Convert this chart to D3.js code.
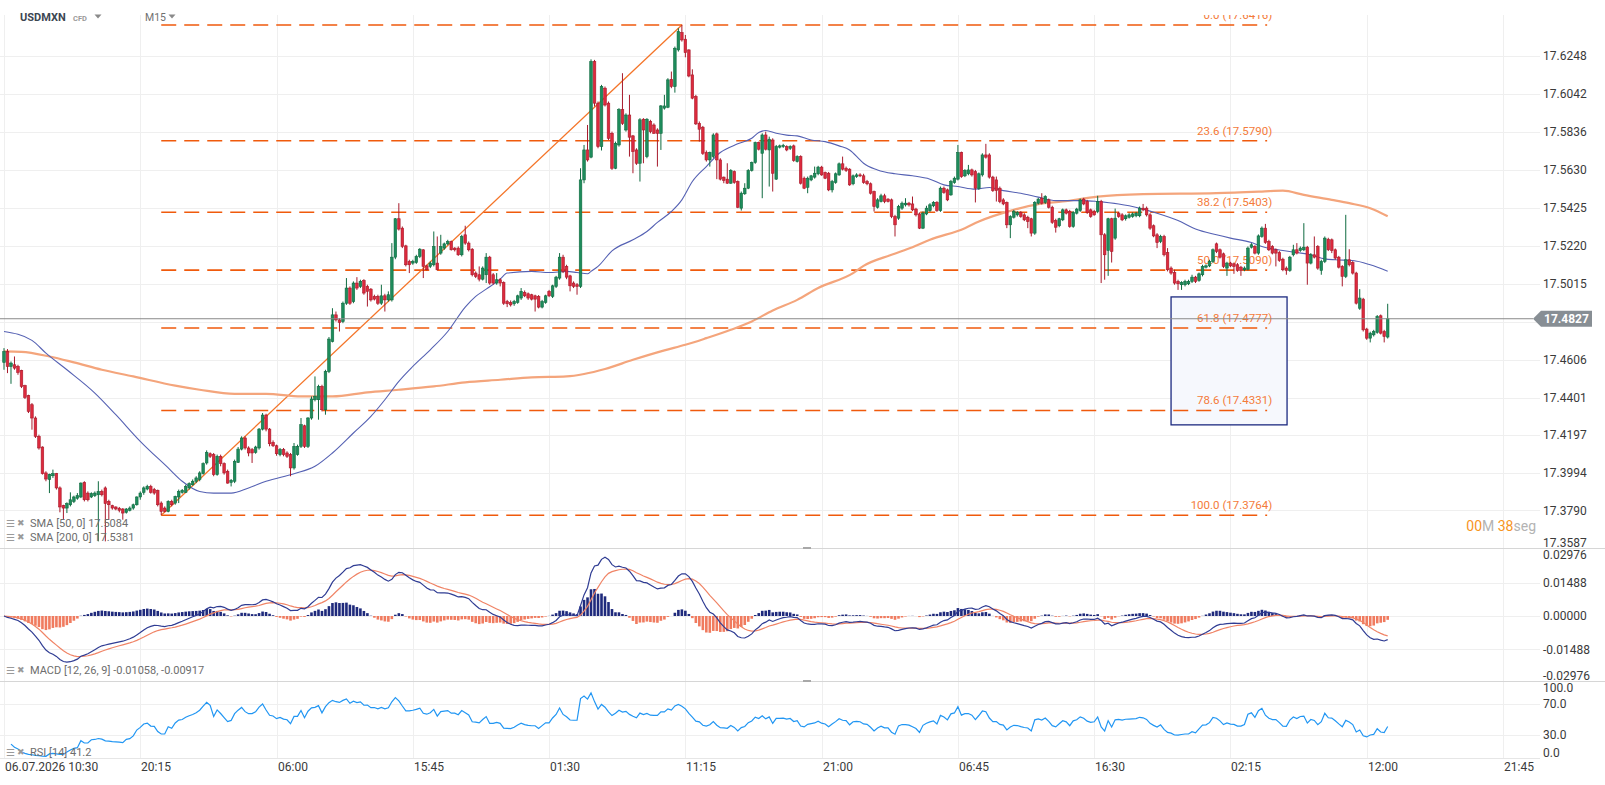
<!DOCTYPE html>
<html>
<head>
<meta charset="utf-8">
<script src="https://cdn.jsdelivr.net/npm/d3@7"></script>
<style>
  body { margin: 0; background: #fff; }
  svg { display: block; font-family: Roboto, 'Noto Sans', sans-serif; }
</style>
</head>
<body>
<svg id="chart" width="1605" height="785"></svg>
<script>
'use strict';

// ---- data (USDMXN, M15) ----
const opens = [
  17.4591,17.4650,17.4569,17.4578,17.4569,17.4548,17.4465,17.4411,17.4362,17.4290,
  17.4191,17.4133,17.3993,17.3958,17.3978,17.3989,17.3912,17.3816,17.3803,17.3821,
  17.3839,17.3856,17.3863,17.3942,17.3884,17.3863,17.3870,17.3875,17.3893,17.3912,
  17.3839,17.3816,17.3809,17.3802,17.3798,17.3780,17.3791,17.3803,17.3821,17.3863,
  17.3888,17.3906,17.3920,17.3903,17.3899,17.3830,17.3803,17.3785,17.3839,17.3830,
  17.3863,17.3888,17.3888,17.3912,17.3929,17.3948,17.3958,17.3989,17.4047,17.4097,
  17.4092,17.3984,17.4083,17.4043,17.4002,17.3942,17.3948,17.4050,17.4122,17.4182,
  17.4128,17.4119,17.4104,17.4128,17.4230,17.4306,17.4230,17.4158,17.4140,17.4092,
  17.4119,17.4101,17.4092,17.4020,17.4092,17.4137,17.4248,17.4137,17.4290,17.4389,
  17.4389,17.4461,17.4335,17.4542,17.4704,17.4848,17.4821,17.4812,17.4911,17.4993,
  17.4920,17.5020,17.5002,17.5034,17.5002,17.4987,17.4948,17.4948,17.4911,17.4951,
  17.4929,17.4929,17.5160,17.5368,17.5317,17.5221,17.5137,17.5128,17.5131,17.5164,
  17.5200,17.5113,17.5110,17.5119,17.5128,17.5182,17.5209,17.5232,17.5245,17.5209,
  17.5209,17.5173,17.5281,17.5236,17.5203,17.5074,17.5065,17.5041,17.5065,17.5160,
  17.5065,17.5020,17.5038,17.5023,17.4920,17.4915,17.4908,17.4915,17.4939,17.4969,
  17.4962,17.4957,17.4951,17.4948,17.4890,17.4915,17.4975,17.4948,17.5002,17.5047,
  17.5160,17.5110,17.5059,17.5020,17.5011,17.5002,17.5578,17.5740,17.5701,17.6218,
  17.5993,17.5758,17.6074,17.5993,17.5830,17.5641,17.5767,17.5958,17.5848,17.5929,
  17.5816,17.5740,17.5668,17.5906,17.5704,17.5894,17.5875,17.5848,17.5830,17.5966,
  17.5971,17.6122,17.6083,17.6281,17.6375,17.6339,17.6281,17.6146,17.6029,17.5884,
  17.5863,17.5726,17.5686,17.5704,17.5827,17.5686,17.5593,17.5582,17.5560,17.5623,
  17.5569,17.5425,17.5503,17.5533,17.5629,17.5672,17.5780,17.5722,17.5821,17.5740,
  17.5794,17.5582,17.5755,17.5758,17.5758,17.5749,17.5762,17.5677,17.5704,17.5587,
  17.5538,17.5578,17.5593,17.5611,17.5647,17.5618,17.5614,17.5524,17.5564,17.5605,
  17.5665,17.5641,17.5636,17.5557,17.5596,17.5605,17.5600,17.5569,17.5557,17.5515,
  17.5430,17.5461,17.5492,17.5474,17.5470,17.5380,17.5371,17.5425,17.5443,17.5452,
  17.5448,17.5420,17.5394,17.5317,17.5394,17.5412,17.5438,17.5456,17.5412,17.5533,
  17.5524,17.5497,17.5564,17.5582,17.5726,17.5600,17.5611,17.5632,17.5623,17.5533,
  17.5605,17.5713,17.5713,17.5593,17.5578,17.5533,17.5470,17.5456,17.5335,17.5376,
  17.5389,17.5402,17.5389,17.5376,17.5368,17.5290,17.5452,17.5479,17.5456,17.5470,
  17.5430,17.5358,17.5330,17.5362,17.5416,17.5407,17.5326,17.5398,17.5412,17.5474,
  17.5461,17.5416,17.5407,17.5407,17.5461,17.5281,17.5196,17.5368,17.5263,17.5398,
  17.5389,17.5368,17.5376,17.5380,17.5384,17.5384,17.5425,17.5425,17.5389,17.5330,
  17.5281,17.5245,17.5272,17.5185,17.5101,17.5077,17.5029,17.5011,17.5011,17.5016,
  17.5029,17.5052,17.5034,17.5065,17.5106,17.5113,17.5137,17.5232,17.5200,17.5178,
  17.5101,17.5128,17.5124,17.5119,17.5106,17.5092,17.5095,17.5214,17.5218,17.5182,
  17.5272,17.5317,17.5245,17.5218,17.5200,17.5185,17.5149,17.5101,17.5088,17.5173,
  17.5200,17.5196,17.5200,17.5214,17.5128,17.5173,17.5218,17.5088,17.5137,17.5257,
  17.5254,17.5200,17.5160,17.5110,17.5056,17.5146,17.5131,17.5074,17.4884,17.4933,
  17.4771,17.4722,17.4740,17.4753,17.4843,17.4758,17.4728
];
const highs = [
  17.4668,17.4663,17.4596,17.4623,17.4578,17.4551,17.4470,17.4416,17.4371,17.4299,
  17.4200,17.4137,17.4002,17.3989,17.4011,17.3993,17.3920,17.3821,17.3834,17.3888,
  17.3870,17.3884,17.3942,17.3948,17.3893,17.3888,17.3893,17.3948,17.3903,17.3920,
  17.3848,17.3821,17.3812,17.3809,17.3803,17.3803,17.3812,17.3827,17.3866,17.3893,
  17.3920,17.3929,17.3929,17.3912,17.3903,17.3839,17.3812,17.3845,17.3848,17.3870,
  17.3903,17.3906,17.3929,17.3942,17.3958,17.3975,17.4002,17.4050,17.4115,17.4104,
  17.4101,17.4092,17.4092,17.4050,17.4011,17.3960,17.4065,17.4133,17.4191,17.4191,
  17.4137,17.4128,17.4140,17.4236,17.4317,17.4313,17.4236,17.4169,17.4146,17.4128,
  17.4128,17.4110,17.4101,17.4155,17.4146,17.4290,17.4254,17.4295,17.4407,17.4515,
  17.4470,17.4470,17.4551,17.4728,17.4884,17.4866,17.4830,17.4920,17.5047,17.5002,
  17.5029,17.5052,17.5038,17.5041,17.5011,17.4993,17.4957,17.4957,17.5011,17.4962,
  17.4975,17.5236,17.5371,17.5452,17.5326,17.5227,17.5146,17.5146,17.5173,17.5209,
  17.5203,17.5119,17.5137,17.5299,17.5272,17.5281,17.5239,17.5254,17.5250,17.5214,
  17.5218,17.5281,17.5330,17.5245,17.5209,17.5083,17.5110,17.5110,17.5182,17.5167,
  17.5074,17.5074,17.5047,17.5029,17.4929,17.4926,17.4929,17.4957,17.4993,17.4980,
  17.4969,17.4962,17.4957,17.4955,17.4929,17.4957,17.4983,17.5011,17.5059,17.5182,
  17.5173,17.5119,17.5065,17.5029,17.5020,17.5641,17.5767,17.5875,17.6230,17.6227,
  17.6002,17.6092,17.6083,17.6002,17.5839,17.5785,17.5966,17.6155,17.5938,17.6038,
  17.5821,17.5749,17.5912,17.5912,17.5912,17.5903,17.5884,17.5857,17.5983,17.6038,
  17.6128,17.6164,17.6299,17.6398,17.6416,17.6362,17.6284,17.6176,17.6038,17.5894,
  17.5870,17.5737,17.5731,17.5830,17.5834,17.5695,17.5596,17.5668,17.5636,17.5629,
  17.5575,17.5515,17.5560,17.5636,17.5677,17.5785,17.5785,17.5830,17.5839,17.5812,
  17.5803,17.5767,17.5769,17.5773,17.5765,17.5765,17.5769,17.5711,17.5711,17.5596,
  17.5596,17.5605,17.5650,17.5654,17.5654,17.5623,17.5621,17.5578,17.5618,17.5672,
  17.5704,17.5650,17.5641,17.5607,17.5614,17.5614,17.5611,17.5578,17.5564,17.5520,
  17.5479,17.5503,17.5503,17.5479,17.5477,17.5389,17.5443,17.5461,17.5479,17.5459,
  17.5488,17.5427,17.5402,17.5407,17.5438,17.5452,17.5463,17.5463,17.5542,17.5542,
  17.5531,17.5578,17.5596,17.5767,17.5731,17.5636,17.5659,17.5639,17.5632,17.5618,
  17.5722,17.5773,17.5722,17.5600,17.5596,17.5542,17.5479,17.5461,17.5387,17.5416,
  17.5409,17.5409,17.5398,17.5384,17.5373,17.5463,17.5481,17.5506,17.5495,17.5477,
  17.5438,17.5368,17.5373,17.5423,17.5423,17.5416,17.5409,17.5427,17.5477,17.5481,
  17.5470,17.5423,17.5416,17.5492,17.5470,17.5290,17.5373,17.5373,17.5423,17.5405,
  17.5398,17.5391,17.5398,17.5402,17.5405,17.5434,17.5448,17.5434,17.5398,17.5337,
  17.5290,17.5281,17.5281,17.5209,17.5110,17.5092,17.5038,17.5030,17.5038,17.5038,
  17.5065,17.5059,17.5077,17.5119,17.5121,17.5146,17.5207,17.5239,17.5207,17.5185,
  17.5135,17.5135,17.5131,17.5128,17.5113,17.5110,17.5218,17.5236,17.5225,17.5283,
  17.5326,17.5340,17.5254,17.5225,17.5207,17.5193,17.5157,17.5110,17.5167,17.5227,
  17.5236,17.5218,17.5344,17.5221,17.5182,17.5272,17.5225,17.5146,17.5272,17.5265,
  17.5261,17.5207,17.5167,17.5117,17.5389,17.5203,17.5139,17.5081,17.4987,17.4940,
  17.4778,17.4757,17.4767,17.4847,17.4850,17.4767,17.4908
];
const lows = [
  17.4551,17.4533,17.4475,17.4551,17.4524,17.4452,17.4393,17.4317,17.4227,17.4182,
  17.4119,17.3984,17.3948,17.3884,17.3966,17.3903,17.3780,17.3744,17.3776,17.3812,
  17.3830,17.3848,17.3857,17.3839,17.3839,17.3857,17.3863,17.3623,17.3866,17.3623,
  17.3740,17.3794,17.3791,17.3780,17.3740,17.3773,17.3785,17.3794,17.3816,17.3848,
  17.3875,17.3899,17.3881,17.3875,17.3812,17.3764,17.3780,17.3780,17.3812,17.3821,
  17.3830,17.3881,17.3884,17.3903,17.3924,17.3938,17.3948,17.3984,17.4038,17.4074,
  17.3975,17.3978,17.4029,17.3984,17.3935,17.3920,17.3938,17.4047,17.4115,17.4119,
  17.4083,17.4047,17.4097,17.4119,17.4223,17.4218,17.4137,17.4133,17.4086,17.4083,
  17.4083,17.4074,17.3975,17.4011,17.4086,17.4128,17.4128,17.4128,17.4281,17.4380,
  17.4281,17.4326,17.4308,17.4533,17.4699,17.4812,17.4758,17.4803,17.4902,17.4902,
  17.4911,17.4983,17.4993,17.4957,17.4893,17.4920,17.4926,17.4902,17.4902,17.4866,
  17.4920,17.4920,17.5149,17.5304,17.5209,17.5110,17.5074,17.5119,17.5124,17.5155,
  17.5047,17.5088,17.5101,17.5110,17.5088,17.5173,17.5200,17.5225,17.5196,17.5191,
  17.5167,17.5164,17.5227,17.5191,17.5056,17.5047,17.5029,17.5034,17.5020,17.5011,
  17.5011,17.5011,17.5002,17.4902,17.4890,17.4893,17.4897,17.4908,17.4929,17.4944,
  17.4929,17.4926,17.4866,17.4883,17.4883,17.4908,17.4944,17.4939,17.4993,17.5038,
  17.5074,17.5041,17.4975,17.4993,17.4957,17.4993,17.5560,17.5677,17.5695,17.5975,
  17.5749,17.5737,17.5975,17.5794,17.5632,17.5636,17.5758,17.5875,17.5839,17.5704,
  17.5614,17.5659,17.5569,17.5668,17.5695,17.5830,17.5827,17.5650,17.5740,17.5958,
  17.5966,17.6074,17.6050,17.6272,17.6326,17.6241,17.6133,17.6014,17.5875,17.5785,
  17.5713,17.5677,17.5650,17.5695,17.5582,17.5575,17.5560,17.5557,17.5557,17.5557,
  17.5425,17.5412,17.5497,17.5528,17.5623,17.5665,17.5737,17.5479,17.5737,17.5542,
  17.5515,17.5578,17.5748,17.5751,17.5733,17.5740,17.5676,17.5672,17.5553,17.5528,
  17.5506,17.5571,17.5585,17.5603,17.5600,17.5582,17.5517,17.5510,17.5557,17.5600,
  17.5629,17.5621,17.5546,17.5549,17.5589,17.5593,17.5557,17.5549,17.5499,17.5407,
  17.5423,17.5456,17.5452,17.5456,17.5371,17.5272,17.5362,17.5416,17.5434,17.5434,
  17.5409,17.5380,17.5312,17.5312,17.5387,17.5405,17.5430,17.5405,17.5405,17.5503,
  17.5463,17.5492,17.5557,17.5575,17.5589,17.5593,17.5603,17.5596,17.5456,17.5524,
  17.5596,17.5693,17.5585,17.5513,17.5461,17.5452,17.5441,17.5317,17.5263,17.5369,
  17.5380,17.5373,17.5355,17.5317,17.5272,17.5281,17.5445,17.5445,17.5448,17.5423,
  17.5340,17.5293,17.5322,17.5355,17.5391,17.5319,17.5319,17.5391,17.5405,17.5441,
  17.5394,17.5373,17.5384,17.5398,17.5020,17.5038,17.5059,17.5131,17.5254,17.5373,
  17.5355,17.5358,17.5369,17.5373,17.5376,17.5376,17.5409,17.5380,17.5308,17.5268,
  17.5209,17.5236,17.5164,17.5083,17.5065,17.5011,17.4983,17.4983,17.5002,17.5009,
  17.5020,17.5020,17.5027,17.5056,17.5099,17.5106,17.5128,17.5182,17.5153,17.5101,
  17.5059,17.5106,17.5070,17.5081,17.5059,17.5084,17.5088,17.5207,17.5175,17.5173,
  17.5265,17.5232,17.5193,17.5175,17.5110,17.5135,17.5084,17.5065,17.5081,17.5164,
  17.5175,17.5189,17.5193,17.5011,17.5121,17.5153,17.5092,17.5065,17.5128,17.5193,
  17.5182,17.5146,17.5099,17.5002,17.5047,17.5110,17.5066,17.4904,17.4875,17.4758,
  17.4713,17.4699,17.4731,17.4746,17.4742,17.4699,17.4720
];
const closes = [
  17.4650,17.4569,17.4587,17.4560,17.4537,17.4461,17.4402,17.4326,17.4290,17.4191,
  17.4128,17.3989,17.3960,17.3984,17.3989,17.3912,17.3809,17.3803,17.3827,17.3848,
  17.3863,17.3870,17.3938,17.3848,17.3848,17.3881,17.3884,17.3893,17.3875,17.3827,
  17.3821,17.3803,17.3798,17.3791,17.3776,17.3798,17.3803,17.3821,17.3863,17.3884,
  17.3912,17.3920,17.3888,17.3884,17.3821,17.3785,17.3785,17.3839,17.3821,17.3866,
  17.3893,17.3899,17.3920,17.3935,17.3948,17.3966,17.3993,17.4043,17.4104,17.4083,
  17.3984,17.4083,17.4043,17.3993,17.3938,17.3953,17.4056,17.4122,17.4182,17.4128,
  17.4101,17.4101,17.4133,17.4230,17.4306,17.4230,17.4151,17.4140,17.4097,17.4119,
  17.4092,17.4083,17.4020,17.4137,17.4137,17.4254,17.4137,17.4290,17.4393,17.4407,
  17.4461,17.4335,17.4542,17.4717,17.4848,17.4821,17.4807,17.4911,17.4993,17.4911,
  17.5020,17.4993,17.5029,17.4966,17.4975,17.4929,17.4933,17.4911,17.4951,17.4929,
  17.4957,17.5160,17.5368,17.5312,17.5218,17.5119,17.5119,17.5137,17.5164,17.5203,
  17.5110,17.5092,17.5128,17.5218,17.5092,17.5218,17.5232,17.5245,17.5200,17.5200,
  17.5173,17.5272,17.5236,17.5200,17.5065,17.5056,17.5041,17.5101,17.5160,17.5020,
  17.5020,17.5038,17.5020,17.4911,17.4908,17.4902,17.4920,17.4951,17.4975,17.4951,
  17.4939,17.4933,17.4933,17.4890,17.4920,17.4951,17.4951,17.5005,17.5052,17.5160,
  17.5083,17.5052,17.5005,17.5002,17.5002,17.5578,17.5740,17.5686,17.6218,17.5993,
  17.5758,17.6083,17.5983,17.5803,17.5641,17.5776,17.5958,17.5884,17.5929,17.5809,
  17.5731,17.5668,17.5903,17.5848,17.5906,17.5839,17.5830,17.5830,17.5978,17.5978,
  17.6119,17.6083,17.6290,17.6380,17.6335,17.6266,17.6140,17.6020,17.5881,17.5852,
  17.5722,17.5686,17.5726,17.5821,17.5686,17.5582,17.5575,17.5560,17.5629,17.5564,
  17.5430,17.5506,17.5533,17.5629,17.5672,17.5780,17.5744,17.5821,17.5744,17.5798,
  17.5614,17.5758,17.5762,17.5765,17.5740,17.5758,17.5683,17.5704,17.5560,17.5533,
  17.5587,17.5600,17.5614,17.5647,17.5605,17.5587,17.5524,17.5569,17.5611,17.5665,
  17.5636,17.5629,17.5551,17.5600,17.5605,17.5600,17.5564,17.5557,17.5506,17.5434,
  17.5470,17.5492,17.5461,17.5461,17.5380,17.5335,17.5434,17.5452,17.5452,17.5443,
  17.5416,17.5389,17.5317,17.5398,17.5425,17.5443,17.5456,17.5412,17.5533,17.5510,
  17.5470,17.5569,17.5587,17.5726,17.5596,17.5629,17.5632,17.5605,17.5533,17.5611,
  17.5713,17.5701,17.5593,17.5520,17.5520,17.5461,17.5448,17.5335,17.5380,17.5407,
  17.5402,17.5380,17.5362,17.5353,17.5290,17.5456,17.5474,17.5452,17.5488,17.5430,
  17.5348,17.5322,17.5368,17.5416,17.5398,17.5326,17.5402,17.5420,17.5470,17.5448,
  17.5402,17.5380,17.5389,17.5461,17.5281,17.5173,17.5368,17.5191,17.5371,17.5380,
  17.5362,17.5384,17.5389,17.5394,17.5398,17.5425,17.5416,17.5389,17.5317,17.5275,
  17.5239,17.5272,17.5173,17.5092,17.5074,17.5020,17.5016,17.5023,17.5029,17.5029,
  17.5052,17.5029,17.5070,17.5110,17.5113,17.5137,17.5200,17.5191,17.5160,17.5110,
  17.5128,17.5113,17.5110,17.5088,17.5088,17.5101,17.5209,17.5227,17.5182,17.5275,
  17.5317,17.5239,17.5200,17.5182,17.5182,17.5142,17.5092,17.5088,17.5160,17.5200,
  17.5182,17.5209,17.5214,17.5128,17.5173,17.5160,17.5101,17.5137,17.5263,17.5200,
  17.5196,17.5155,17.5106,17.5056,17.5146,17.5119,17.5074,17.4911,17.4939,17.4767,
  17.4722,17.4749,17.4758,17.4839,17.4749,17.4731,17.4827
];

// moving averages as drawn (bar index, value)
const sma50Bars = [0,8,12,18,26,32,39,47,51,56,60,65,70,75,83,89,94,100,105,109,113,117,122,127,132,
  135,138,142,144,151,156,161,164,167,168,170,174,180,184,187,191,194,197,201,205,210,214,216,218,
  221,224,227,231,235,239,242,245,246,250,255,260,265,269,273,278,282,286,291,296,301,309,313,319,
  322,326,330,336,341,347,351,357,360,366,370,374,378,381,386,391,396];
const sma50Vals = [17.4758,17.4710,17.4641,17.4551,17.4425,17.4308,17.4164,17.4020,17.3948,17.3893,
  17.3884,17.3884,17.3912,17.3948,17.3989,17.4029,17.4101,17.4209,17.4299,17.4389,17.4488,17.4569,
  17.4659,17.4758,17.4890,17.4948,17.4987,17.5041,17.5074,17.5083,17.5077,17.5083,17.5077,17.5070,
  17.5083,17.5110,17.5194,17.5254,17.5299,17.5348,17.5407,17.5470,17.5569,17.5650,17.5726,17.5773,
  17.5803,17.5834,17.5845,17.5830,17.5820,17.5816,17.5794,17.5785,17.5762,17.5740,17.5686,17.5668,
  17.5632,17.5611,17.5600,17.5582,17.5551,17.5542,17.5528,17.5537,17.5520,17.5506,17.5485,17.5466,
  17.5466,17.5461,17.5448,17.5438,17.5420,17.5398,17.5358,17.5312,17.5281,17.5263,17.5239,17.5218,
  17.5196,17.5185,17.5173,17.5151,17.5146,17.5142,17.5119,17.5084];
const sma200Bars = [0,5,13,20,28,37,49,56,66,75,85,94,104,113,123,132,142,151,161,166,172,180,189,
  195,201,208,214,220,227,233,243,246,254,260,265,275,279,289,296,303,313,326,347,360,366,372,380,
  385,391,396];
const sma200Vals = [17.4650,17.4648,17.4623,17.4591,17.4551,17.4515,17.4465,17.4443,17.4421,17.4421,
  17.4407,17.4407,17.4429,17.4443,17.4461,17.4483,17.4497,17.4510,17.4515,17.4528,17.4555,17.4605,
  17.4656,17.4686,17.4722,17.4767,17.4812,17.4872,17.4929,17.4993,17.5074,17.5113,17.5173,17.5214,
  17.5254,17.5317,17.5353,17.5416,17.5447,17.5461,17.5488,17.5501,17.5506,17.5515,17.5520,17.5497,
  17.5470,17.5452,17.5425,17.5381];

// axis ticks and labels
const timeLabels = ['06.07.2026 10:30','20:15','06:00','15:45','01:30','11:15','21:00','06:45','16:30','02:15','12:00','21:45'];
const timeLabelBars = [0,39,78,117,156,195,234,273,312,351,390,429];
const priceTicks = [17.6248,17.6042,17.5836,17.5630,17.5425,17.5220,17.5015,17.4810,17.4606,17.4401,17.4197,17.3994,17.3790,17.3587];
const macdTicks = [0.02976,0.01488,0,-0.01488,-0.02976];
const macdTickLabels = ['0.02976','0.01488','0.00000','-0.01488','-0.02976'];
const rsiTicks = [100,70,30,0];

// drawings
const fibLevels = ['0.0','23.6','38.2','50.0','61.8','78.6','100.0'];
const fibPrices = [17.6416,17.5790,17.5403,17.5090,17.4777,17.4331,17.3764];
const fibBars = [45, 361.5];
const trendBars = [45, 194];
const trendPrices = [17.3764, 17.6416];
const boxBars = [334, 367.2];
const boxPrices = [17.4945, 17.4253];
const lastPrice = 17.4827;

// ---- layout ----
const plotRight = 1540;
const mainPanel = {top: 0, bottom: 548};
const macdPanel = {top: 548, bottom: 681};
const rsiPanel = {top: 681, bottom: 758};

let svg = d3.select('#chart');

let x = d3.scaleLinear().domain([0, 429]).range([4, 1503]);
let yPrice = d3.scaleLinear().domain([17.3587, 17.6551]).range([548, 0]);
let yMacd = d3.scaleLinear().domain([-0.02976, 0.02976]).range([682.6, 549.4]);
let yRsi = d3.scaleLinear().domain([0, 100]).range([758.25, 680.75]);

function ema(values, n) {
  let k = 2 / (n + 1);
  let out = [];
  values.forEach(function(v, i) {
    out.push(i === 0 ? v : v * k + out[i - 1] * (1 - k));
  });
  return out;
}

function rsi(values, n) {
  let out = [null];
  let avgGain = 0;
  let avgLoss = 0;
  for (let i = 1; i < values.length; i++) {
    let diff = values[i] - values[i - 1];
    let m = Math.min(i, n);
    avgGain = (avgGain * (m - 1) + Math.max(diff, 0)) / m;
    avgLoss = (avgLoss * (m - 1) + Math.max(-diff, 0)) / m;
    out.push(avgLoss === 0 ? 100 : 100 - 100 / (1 + avgGain / avgLoss));
  }
  return out;
}

function clipRect(id, top, bottom) {
  svg.append('clipPath').attr('id', id)
    .append('rect')
    .attr('x', 0).attr('y', top)
    .attr('width', plotRight).attr('height', bottom - top);
}

function axisLabel(y, text, top, bottom) {
  svg.append('text')
    .attr('x', 1543)
    .attr('y', Math.max(top + 6.5, Math.min(bottom - 5, y)))
    .attr('dy', '0.35em')
    .attr('font-size', '12px')
    .attr('fill', '#3a3a3a')
    .text(text);
}

function legendRow(y, text) {
  let g = svg.append('g').attr('transform', 'translate(6,' + y + ')');
  g.append('text').attr('x', 0).attr('dy', '0.35em')
    .attr('font-size', '10px').attr('fill', '#9a9a9a')
    .attr('font-family', 'DejaVu Sans').text('\u2630');
  g.append('text').attr('x', 11).attr('dy', '0.35em')
    .attr('font-size', '9px').attr('fill', '#9a9a9a')
    .attr('font-family', 'DejaVu Sans').text('\u2716');
  g.append('text').attr('x', 24).attr('dy', '0.35em')
    .attr('font-size', '11px').attr('fill', '#6d6d6d')
    .text(text);
}

clipRect('clip-main', 15, mainPanel.bottom);
clipRect('clip-macd', macdPanel.top, macdPanel.bottom);
clipRect('clip-rsi', rsiPanel.top, rsiPanel.bottom);

// ---- grid ----
let grid = svg.append('g').attr('stroke', '#efefef').attr('stroke-width', 1);

grid.selectAll('.vgrid')
  .data(timeLabelBars)
  .enter()
  .append('line')
  .attr('x1', d => Math.round(x(d)) + 0.5)
  .attr('x2', d => Math.round(x(d)) + 0.5)
  .attr('y1', 15)
  .attr('y2', rsiPanel.bottom);

grid.selectAll('.pgrid')
  .data(priceTicks.slice(0, -1))
  .enter()
  .append('line')
  .attr('x1', 0).attr('x2', plotRight)
  .attr('y1', d => Math.round(yPrice(d)) + 0.5)
  .attr('y2', d => Math.round(yPrice(d)) + 0.5);

grid.selectAll('.mgrid')
  .data(macdTicks.slice(1, -1))
  .enter()
  .append('line')
  .attr('x1', 0).attr('x2', plotRight)
  .attr('y1', d => Math.round(yMacd(d)) + 0.5)
  .attr('y2', d => Math.round(yMacd(d)) + 0.5);

grid.selectAll('.rgrid')
  .data(rsiTicks.slice(1, -1))
  .enter()
  .append('line')
  .attr('x1', 0).attr('x2', plotRight)
  .attr('y1', d => Math.round(yRsi(d)) + 0.5)
  .attr('y2', d => Math.round(yRsi(d)) + 0.5);

// panel separators
[mainPanel.bottom, macdPanel.bottom].forEach(function(y) {
  svg.append('line')
    .attr('x1', 0).attr('x2', 1605)
    .attr('y1', y + 0.5).attr('y2', y + 0.5)
    .attr('stroke', '#d6d6d6');
  svg.append('rect')
    .attr('x', 803).attr('y', y - 1)
    .attr('width', 8).attr('height', 2)
    .attr('fill', '#a8a8a8');
});
svg.append('line')
  .attr('x1', 0).attr('x2', plotRight)
  .attr('y1', rsiPanel.bottom + 0.5).attr('y2', rsiPanel.bottom + 0.5)
  .attr('stroke', '#e6e6e6');

// ---- main panel ----
let main = svg.append('g').attr('clip-path', 'url(#clip-main)');

// fib box
main.append('rect')
  .attr('x', x(boxBars[0]))
  .attr('y', yPrice(boxPrices[0]))
  .attr('width', x(boxBars[1]) - x(boxBars[0]))
  .attr('height', yPrice(boxPrices[1]) - yPrice(boxPrices[0]))
  .attr('fill', '#f6f8fd')
  .attr('stroke', '#1c2a80')
  .attr('stroke-width', 1.3);

// fib levels
main.selectAll('.fib')
  .data(fibPrices)
  .enter()
  .append('line')
  .attr('x1', x(fibBars[0]))
  .attr('x2', x(fibBars[1]))
  .attr('y1', d => yPrice(d))
  .attr('y2', d => yPrice(d))
  .attr('stroke', '#f05a0c')
  .attr('stroke-width', 1.6)
  .attr('stroke-dasharray', '15,8');

main.selectAll('.fib-label')
  .data(fibPrices)
  .enter()
  .append('text')
  .attr('x', x(fibBars[1]) + 5)
  .attr('y', d => yPrice(d) - 6)
  .attr('text-anchor', 'end')
  .attr('font-size', '11.5px')
  .attr('fill', '#f47b3a')
  .text((d, i) => fibLevels[i] + ' (' + d.toFixed(4) + ')');

// trend line of the fib tool
main.append('line')
  .attr('x1', x(trendBars[0])).attr('y1', yPrice(trendPrices[0]))
  .attr('x2', x(trendBars[1])).attr('y2', yPrice(trendPrices[1]))
  .attr('stroke', '#f47428')
  .attr('stroke-width', 1.3);

// moving averages
let smaLine = d3.line()
  .x(d => x(d[0]))
  .y(d => yPrice(d[1]))
  .curve(d3.curveMonotoneX);

main.append('path')
  .datum(sma200Bars.map((b, i) => [b, sma200Vals[i]]))
  .attr('d', smaLine)
  .attr('fill', 'none')
  .attr('stroke', '#f4a57c')
  .attr('stroke-width', 2.2);

main.append('path')
  .datum(sma50Bars.map((b, i) => [b, sma50Vals[i]]))
  .attr('d', smaLine)
  .attr('fill', 'none')
  .attr('stroke', '#5561b3')
  .attr('stroke-width', 1.1);

// candles
let candles = closes.map(function(c, i) {
  return {i: i, o: opens[i], h: highs[i], l: lows[i], c: c, up: c >= opens[i]};
});

let candle = main.selectAll('.candle')
  .data(candles)
  .enter()
  .append('g');

candle.append('line')
  .attr('x1', d => x(d.i))
  .attr('x2', d => x(d.i))
  .attr('y1', d => yPrice(d.h))
  .attr('y2', d => yPrice(d.l))
  .attr('stroke', d => d.up ? '#0f6b40' : '#a81a2b')
  .attr('stroke-width', 1);

candle.append('rect')
  .attr('x', d => x(d.i) - 1.3)
  .attr('width', 2.6)
  .attr('y', d => yPrice(Math.max(d.o, d.c)))
  .attr('height', d => Math.max(1, Math.abs(yPrice(d.o) - yPrice(d.c))))
  .attr('fill', d => d.up ? '#1e8c5c' : '#dd2a3d')
  .attr('stroke', d => d.up ? '#0f6b40' : '#a81a2b')
  .attr('stroke-width', 0.6);

// last price line
svg.append('line')
  .attr('x1', 0).attr('x2', 1533)
  .attr('y1', yPrice(lastPrice)).attr('y2', yPrice(lastPrice))
  .attr('stroke', '#8a8a8a')
  .attr('stroke-width', 1);

// ---- MACD ----
let ema12 = ema(closes, 12);
let ema26 = ema(closes, 26);
let macd = ema12.map((v, i) => v - ema26[i]);
let signal = ema(macd, 9);
let hist = macd.map((v, i) => v - signal[i]);

let macdG = svg.append('g').attr('clip-path', 'url(#clip-macd)');

macdG.selectAll('.hist')
  .data(hist)
  .enter()
  .append('rect')
  .attr('x', (d, i) => x(i) - 1.3)
  .attr('width', 2.6)
  .attr('y', d => Math.min(yMacd(d), yMacd(0)))
  .attr('height', d => Math.abs(yMacd(d) - yMacd(0)))
  .attr('fill', d => d >= 0 ? '#1f2a7c' : '#f07b5f');

let macdLine = d3.line().x((d, i) => x(i)).y(d => yMacd(d));

macdG.append('path')
  .datum(signal)
  .attr('d', macdLine)
  .attr('fill', 'none')
  .attr('stroke', '#f08466')
  .attr('stroke-width', 1.2);

macdG.append('path')
  .datum(macd)
  .attr('d', macdLine)
  .attr('fill', 'none')
  .attr('stroke', '#2f3c93')
  .attr('stroke-width', 1.2);

// ---- RSI ----
let rsiVals = rsi(closes, 14);
let rsiG = svg.append('g').attr('clip-path', 'url(#clip-rsi)');

rsiG.append('path')
  .datum(rsiVals.map((v, i) => [i, v]).slice(2))
  .attr('d', d3.line().x(d => x(d[0])).y(d => yRsi(d[1])))
  .attr('fill', 'none')
  .attr('stroke', '#2196f3')
  .attr('stroke-width', 1.2);

// ---- right axis labels ----
priceTicks.forEach(function(p) {
  axisLabel(yPrice(p), p.toFixed(4), mainPanel.top, mainPanel.bottom);
});
macdTicks.forEach(function(m, i) {
  axisLabel(yMacd(m), macdTickLabels[i], macdPanel.top, macdPanel.bottom);
});
rsiTicks.forEach(function(r) {
  axisLabel(yRsi(r), r.toFixed(1), rsiPanel.top, rsiPanel.bottom);
});

// last price badge
let lp = yPrice(lastPrice);
svg.append('path')
  .attr('d', 'M1533,' + lp + 'L1541,' + (lp - 8) + 'L1592,' + (lp - 8) +
    'L1592,' + (lp + 8) + 'L1541,' + (lp + 8) + 'Z')
  .attr('fill', '#878e94');
svg.append('text')
  .attr('x', 1544).attr('y', lp).attr('dy', '0.35em')
  .attr('font-size', '12px').attr('font-weight', 'bold')
  .attr('fill', '#fff')
  .text(lastPrice.toFixed(4));

// ---- time axis ----
svg.selectAll('.tlabel')
  .data(timeLabelBars)
  .enter()
  .append('text')
  .attr('x', d => Math.round(x(d)) + 1)
  .attr('y', 767)
  .attr('dy', '0.35em')
  .attr('font-size', '12px')
  .attr('fill', '#3a3a3a')
  .text((d, i) => timeLabels[i]);

// ---- header and legends ----
let header = svg.append('g');
header.append('text').attr('x', 20).attr('y', 21)
  .attr('font-size', '11px').attr('font-weight', 'bold').attr('fill', '#3c4652')
  .text('USDMXN');
header.append('text').attr('x', 73).attr('y', 21)
  .attr('font-size', '7.5px').attr('font-weight', 'bold').attr('fill', '#9a9a9a')
  .text('CFD');
header.append('text').attr('x', 145).attr('y', 21)
  .attr('font-size', '10.5px').attr('fill', '#707070')
  .text('M15');
[98, 172].forEach(function(cx) {
  header.append('path')
    .attr('d', 'M' + (cx - 3.5) + ',14.5L' + (cx + 3.5) + ',14.5L' + cx + ',18.5Z')
    .attr('fill', '#8a8a8a');
});

legendRow(523, 'SMA [50, 0] 17.5084');
legendRow(537, 'SMA [200, 0] 17.5381');
legendRow(670, 'MACD [12, 26, 9] -0.01058, -0.00917');
legendRow(752, 'RSI [14] 41.2');

// candle countdown
let timer = svg.append('text')
  .attr('x', 1536).attr('y', 526).attr('dy', '0.35em')
  .attr('text-anchor', 'end')
  .attr('font-size', '14px');
timer.append('tspan').attr('fill', '#f7941d').text('00');
timer.append('tspan').attr('fill', '#b3b3b3').text('M ');
timer.append('tspan').attr('fill', '#f7941d').text('38');
timer.append('tspan').attr('fill', '#b3b3b3').text('seg');
</script>
</body>
</html>
